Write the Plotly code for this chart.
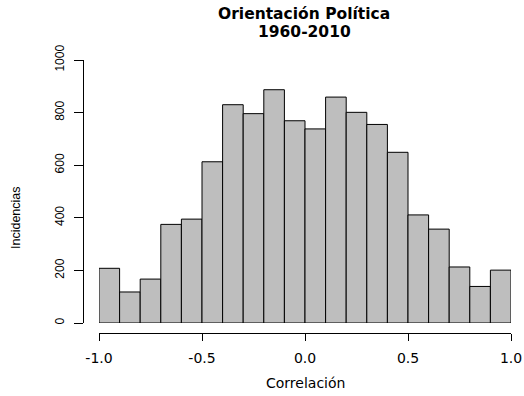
import plotly.graph_objects as go

# Data
bin_edges = [round(-1.0 + 0.1 * i, 1) for i in range(21)]
counts = [208, 118, 167, 375, 395, 613, 830, 796, 887, 769,
          738, 859, 801, 755, 649, 411, 357, 213, 139, 201]
x_ticks = [-1.0, -0.5, 0.0, 0.5, 1.0]
x_ticklabels = ["-1.0", "-0.5", "0.0", "0.5", "1.0"]
y_ticks = [0, 200, 400, 600, 800, 1000]
title_lines = ["Orientación Política", "1960-2010"]
x_title = "Correlación"
y_title = "Incidencias"

centers = [(bin_edges[i] + bin_edges[i + 1]) / 2 for i in range(len(counts))]
widths = [bin_edges[i + 1] - bin_edges[i] for i in range(len(counts))]

W, H = 524, 396
L, R, T, B = 83, 13, 60, 63
pw, ph = W - L - R, H - T - B

WIDE = "DejaVu Sans, Verdana, sans-serif"
NARROW = "Liberation Sans, Arial, Helvetica, sans-serif"

fig = go.Figure()
fig.add_trace(go.Bar(
    x=centers, y=counts, width=widths,
    marker=dict(color="#BEBEBE", line=dict(color="black", width=1)),
    hoverinfo="skip",
))

fig.update_layout(
    width=W, height=H,
    margin=dict(l=L, r=R, t=T, b=B, pad=0),
    paper_bgcolor="white", plot_bgcolor="white",
    showlegend=False,
    hovermode=False,
    font=dict(family=NARROW, size=12, color="black"),
    xaxis=dict(
        domain=[16 / pw, 1], range=[-1, 1], anchor="free", position=0,
        automargin=False, fixedrange=True,
        showline=True, linecolor="black", linewidth=1,
        ticks="outside", ticklen=7, tickwidth=1, tickcolor="black",
        tickvals=x_ticks, ticktext=x_ticklabels,
        ticklabelstandoff=5,
        showgrid=False, zeroline=False,
        tickfont=dict(family=WIDE, size=14),
    ),
    yaxis=dict(
        domain=[10 / ph, 1], range=[0, 1000], anchor="free", position=0,
        automargin=False, fixedrange=True,
        showline=True, linecolor="black", linewidth=1,
        ticks="outside", ticklen=9, tickwidth=1, tickcolor="black",
        tickvals=y_ticks, tickangle=-90,
        ticklabelstandoff=5,
        showgrid=False, zeroline=False,
        tickfont=dict(family=NARROW, size=12),
    ),
    annotations=[
        dict(text="<b>" + title_lines[0] + "</b>", xref="paper", yref="paper",
             x=(304 - L) / pw, y=1 + (T - 14) / ph, xanchor="center", yanchor="middle",
             showarrow=False, font=dict(family=WIDE, size=15.5)),
        dict(text="<b>" + title_lines[1] + "</b>", xref="paper", yref="paper",
             x=(304 - L) / pw, y=1 + (T - 32) / ph, xanchor="center", yanchor="middle",
             showarrow=False, font=dict(family=WIDE, size=15.5)),
        dict(text=x_title, xref="paper", yref="paper",
             x=(305 - L) / pw, y=-(383 - (H - B)) / ph, xanchor="center", yanchor="middle",
             showarrow=False, font=dict(family=WIDE, size=14)),
        dict(text=y_title, xref="paper", yref="paper", textangle=-90,
             x=(16 - L) / pw, y=(H - B - 218) / ph, xanchor="center", yanchor="middle",
             showarrow=False, font=dict(family=NARROW, size=12.5)),
    ],
)

fig.write_html("out.html", config={"displayModeBar": False, "staticPlot": True},
               post_script="document.body.style.margin='0';")
